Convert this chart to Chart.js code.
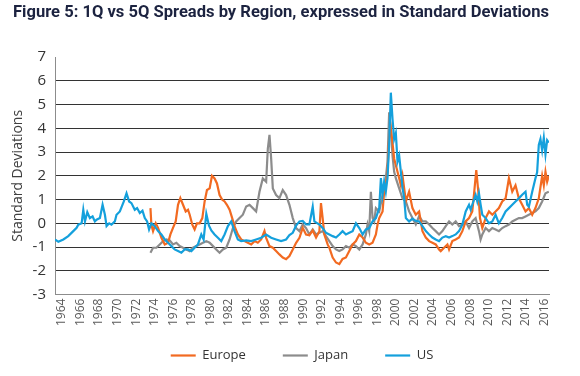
<!DOCTYPE html>
<html>
<head>
<meta charset="utf-8">
<script src="https://cdn.jsdelivr.net/npm/chart.js@4.4.1/dist/chart.umd.min.js"></script>
<style>
  html, body { margin: 0; padding: 0; background: #ffffff; }
  #wrap { width: 580px; height: 376px; position: relative; }
</style>
</head>
<body>
<div id="wrap"><canvas id="c" width="580" height="376"></canvas></div>
<script>
// ---- Data ----
const tickYears = [1964,1966,1968,1970,1972,1974,1976,1978,1980,1982,1984,1986,1988,1990,1992,1994,1996,1998,2000,2002,2004,2006,2008,2010,2012,2014,2016];

const usDates = [1963.25,1963.61,1964.15,1964.68,1965.22,1965.58,1965.76,1966.12,1966.30,1966.48,1966.73,1967.01,1967.30,1967.55,1967.73,1968.09,1968.38,1968.63,1968.81,1969.09,1969.34,1969.70,1969.88,1970.24,1970.67,1970.96,1971.24,1971.49,1971.85,1972.10,1972.39,1972.68,1972.93,1973.18,1973.39,1973.64,1974.00,1974.36,1974.72,1975.08,1975.44,1975.80,1976.15,1976.51,1976.87,1977.23,1977.59,1977.95,1978.30,1978.66,1979.02,1979.27,1979.56,1979.85,1980.10,1980.45,1980.81,1981.17,1981.53,1981.89,1982.25,1982.60,1982.96,1983.32,1983.86,1984.40,1984.93,1985.47,1986.01,1986.55,1987.08,1987.62,1988.16,1988.52,1988.88,1989.24,1989.60,1989.95,1990.31,1990.67,1991.03,1991.21,1991.75,1992.10,1992.46,1992.82,1993.18,1993.54,1993.90,1994.25,1994.61,1994.97,1995.33,1995.69,1996.05,1996.41,1996.76,1997.12,1997.48,1997.84,1998.20,1998.38,1998.56,1998.73,1998.91,1999.09,1999.27,1999.45,1999.63,1999.81,1999.99,2000.17,2000.35,2000.71,2000.89,2001.07,2001.42,2001.78,2002.14,2002.50,2002.86,2003.22,2003.58,2003.93,2004.29,2004.65,2005.01,2005.37,2005.73,2006.08,2006.44,2006.80,2007.16,2007.52,2007.88,2008.06,2008.23,2008.59,2008.77,2008.95,2009.13,2009.31,2009.67,2010.03,2010.39,2010.74,2011.10,2011.46,2011.82,2012.18,2012.54,2012.89,2013.25,2013.61,2013.97,2014.15,2014.33,2014.69,2015.04,2015.22,2015.40,2015.58,2015.76,2015.94,2016.12,2016.30,2016.48];
const usValues = [-0.68,-0.78,-0.68,-0.54,-0.33,-0.19,-0.06,0.0,0.57,0.08,0.47,0.22,0.29,0.08,0.15,0.22,0.78,0.36,-0.12,0.0,-0.06,0.08,0.36,0.5,0.92,1.26,0.92,0.85,0.57,0.64,0.43,0.53,0.22,0.08,-0.26,0.0,-0.12,-0.33,-0.47,-0.68,-0.82,-0.96,-1.1,-1.17,-1.24,-1.1,-1.1,-1.17,-1.03,-0.89,-0.47,-0.68,0.4,-0.1,-0.3,-0.47,-0.61,-0.75,-0.47,-0.12,0.08,-0.33,-0.68,-0.75,-0.72,-0.75,-0.68,-0.61,-0.47,-0.61,-0.68,-0.75,-0.68,-0.5,-0.4,-0.1,0.08,0.1,-0.05,-0.05,0.7,0.08,-0.05,-0.2,-0.4,-0.47,-0.54,-0.6,-0.47,-0.33,-0.47,-0.4,-0.33,0.0,-0.2,-0.47,-0.26,-0.2,0.08,0.22,0.64,1.9,1.2,1.75,1.33,1.9,3.3,5.5,4.4,3.55,3.8,2.6,2.85,1.5,1.05,0.22,0.08,0.2,0.1,0.08,-0.12,-0.33,-0.47,-0.6,-0.68,-0.75,-0.6,-0.54,-0.6,-0.54,-0.47,-0.33,-0.05,0.5,0.78,0.57,0.78,1.2,0.92,1.26,0.78,0.36,0.22,0.0,0.08,0.36,0.0,0.22,0.5,0.64,0.78,0.92,1.05,1.2,1.33,0.78,0.7,1.33,1.9,2.15,3.3,3.55,3.07,3.6,2.9,3.5,3.4];

const europeDates = [1973.54,1973.64,1973.82,1974.11,1974.36,1974.72,1975.08,1975.44,1975.69,1975.97,1976.26,1976.51,1976.76,1977.05,1977.34,1977.59,1977.77,1978.05,1978.30,1978.55,1978.84,1979.13,1979.38,1979.63,1979.92,1980.17,1980.45,1980.71,1980.99,1981.28,1981.53,1981.78,1982.07,1982.35,1982.60,1982.96,1983.32,1983.68,1984.04,1984.40,1984.76,1985.11,1985.47,1985.83,1986.01,1986.37,1986.73,1987.08,1987.44,1987.80,1988.16,1988.52,1988.88,1989.24,1989.60,1989.95,1990.31,1990.67,1991.03,1991.39,1991.75,1991.92,1992.10,1992.28,1992.64,1992.82,1993.18,1993.54,1993.90,1994.25,1994.61,1994.97,1995.33,1995.69,1996.05,1996.41,1996.76,1997.12,1997.48,1997.84,1998.02,1998.20,1998.56,1998.73,1998.91,1999.09,1999.27,1999.45,1999.63,1999.81,1999.99,2000.35,2000.53,2000.71,2000.89,2001.07,2001.42,2001.78,2002.14,2002.50,2002.86,2003.22,2003.58,2003.93,2004.29,2004.65,2004.83,2005.19,2005.55,2005.73,2006.08,2006.44,2006.80,2007.16,2007.52,2007.88,2008.23,2008.41,2008.66,2008.88,2009.06,2009.31,2009.67,2010.03,2010.39,2010.74,2011.10,2011.46,2011.82,2012.18,2012.54,2012.89,2013.25,2013.61,2013.97,2014.33,2014.69,2015.04,2015.40,2015.76,2015.94,2016.12,2016.30,2016.48];
const europeValues = [0.64,-0.06,-0.33,0.0,-0.19,-0.61,-0.89,-0.82,-0.47,-0.19,0.08,0.78,1.06,0.78,0.5,0.57,0.36,-0.06,-0.26,0.0,0.0,0.22,0.92,1.4,1.47,2.0,1.89,1.68,1.19,0.99,0.92,0.78,0.57,0.22,-0.12,-0.47,-0.68,-0.75,-0.82,-0.89,-0.75,-0.82,-0.68,-0.33,-0.61,-0.96,-1.03,-1.17,-1.31,-1.44,-1.51,-1.38,-1.1,-0.82,-0.61,-0.19,-0.47,-0.5,-0.3,-0.6,-0.33,0.85,0.22,-0.47,-0.89,-1.03,-1.44,-1.65,-1.72,-1.5,-1.44,-1.17,-0.89,-0.75,-0.47,-0.6,-0.82,-0.89,-0.82,-0.47,-0.05,0.22,0.5,1.33,1.6,2.17,3.6,4.0,3.4,2.72,2.44,1.9,1.6,2.0,1.47,0.92,1.33,0.64,0.36,0.5,-0.33,-0.6,-0.75,-0.82,-0.89,-1.1,-1.17,-1.03,-0.89,-1.1,-0.75,-0.68,-0.6,-0.33,0.08,0.22,0.5,1.2,2.24,1.33,0.22,-0.2,0.22,0.5,0.36,0.5,0.64,0.92,1.05,1.9,1.33,1.6,1.05,0.78,0.5,0.64,0.36,0.64,1.05,2.0,1.6,2.17,1.75,2.0];

const japanDates = [1973.54,1973.82,1974.18,1974.54,1974.90,1975.26,1975.62,1975.97,1976.33,1976.69,1977.05,1977.41,1977.77,1978.12,1978.48,1978.84,1979.20,1979.56,1979.92,1980.28,1980.63,1980.99,1981.35,1981.71,1982.07,1982.43,1982.78,1983.14,1983.50,1983.86,1984.22,1984.58,1984.93,1985.29,1985.65,1986.01,1986.19,1986.37,1986.55,1986.73,1987.08,1987.44,1987.80,1988.16,1988.52,1988.88,1989.24,1989.60,1989.95,1990.31,1990.67,1991.03,1991.39,1991.75,1992.10,1992.46,1992.82,1993.18,1993.54,1993.90,1994.25,1994.61,1994.97,1995.33,1995.69,1996.05,1996.41,1996.76,1996.94,1997.12,1997.30,1997.48,1997.66,1997.84,1998.20,1998.56,1998.91,1999.09,1999.27,1999.45,1999.63,1999.81,1999.99,2000.35,2000.71,2001.07,2001.42,2001.78,2002.14,2002.50,2002.86,2003.22,2003.58,2003.93,2004.29,2004.65,2005.01,2005.37,2005.73,2006.08,2006.44,2006.80,2007.16,2007.52,2007.88,2008.23,2008.59,2008.95,2009.13,2009.31,2009.67,2010.03,2010.39,2010.74,2011.10,2011.46,2011.82,2012.18,2012.54,2012.89,2013.25,2013.61,2013.97,2014.33,2014.69,2015.04,2015.40,2015.76,2016.12,2016.48];
const japanValues = [-1.24,-1.03,-1.03,-0.89,-0.75,-0.68,-0.72,-0.89,-0.82,-0.96,-1.03,-1.1,-1.17,-1.03,-0.96,-0.89,-0.82,-0.75,-0.82,-0.96,-1.1,-1.24,-1.1,-1.03,-0.68,-0.19,0.08,0.22,0.36,0.71,0.78,0.64,0.5,1.33,1.89,1.75,3.14,3.72,2.72,1.47,1.19,1.06,1.4,1.19,0.78,0.22,-0.2,-0.33,-0.05,-0.2,-0.47,-0.26,-0.47,-0.4,-0.33,-0.54,-0.75,-0.96,-1.1,-1.17,-1.1,-0.96,-1.03,-0.89,-0.96,-1.1,-0.89,-0.47,-0.05,-0.33,1.33,0.22,0.08,0.64,0.5,1.2,1.9,2.58,4.67,4.0,2.86,2.17,1.9,1.47,1.05,0.92,0.5,0.22,-0.05,0.3,0.08,0.08,-0.05,-0.2,-0.33,-0.47,-0.33,-0.12,0.08,-0.05,0.08,-0.12,-0.05,0.08,-0.2,0.08,0.22,-0.33,-0.68,-0.47,-0.2,-0.33,-0.2,-0.26,-0.33,-0.2,-0.12,-0.05,0.08,0.15,0.22,0.22,0.29,0.36,0.43,0.5,0.64,0.92,1.26,1.33];

function pts(dates, values) { return dates.map((d, i) => ({ x: d, y: values[i] })); }

const FONT = "'Open Sans', 'Liberation Sans', sans-serif";

new Chart(document.getElementById('c'), {
  type: 'line',
  data: {
    datasets: [
      { label: 'Europe', data: pts(europeDates, europeValues), borderColor: '#F26A21', backgroundColor: '#F26A21', borderWidth: 2.2, pointRadius: 0, tension: 0, order: 1 },
      { label: 'Japan', data: pts(japanDates, japanValues), borderColor: '#8C8C8C', backgroundColor: '#8C8C8C', borderWidth: 2.2, pointRadius: 0, tension: 0, order: 2 },
      { label: 'US', data: pts(usDates, usValues), borderColor: '#14A0DC', backgroundColor: '#14A0DC', borderWidth: 2.2, pointRadius: 0, tension: 0, order: 0 }
    ]
  },
  options: {
    responsive: false,
    animation: false,
    devicePixelRatio: 1,
    layout: { padding: { left: 13, right: 31, top: 0, bottom: 4 } },
    scales: {
      x: {
        type: 'linear',
        min: 1963.25,
        max: 2016.5,
        afterBuildTicks: (axis) => { axis.ticks = tickYears.map(v => ({ value: v })); },
        ticks: {
          autoSkip: false, minRotation: 90, maxRotation: 90, padding: 4,
          color: '#595959', font: { family: FONT, size: 12 },
          callback: (v) => String(v)
        },
        grid: { color: 'rgba(0,0,0,0)', drawTicks: false },
        border: { color: '#8c8c8c', width: 1 }
      },
      y: {
        min: -3, max: 7,
        afterFit: (axis) => { axis.width = 42; },
        ticks: { stepSize: 1, padding: 9, color: '#333333', font: { family: FONT, size: 15 } },
        grid: {
          drawTicks: false,
          color: (ctx) => (ctx.tick && (ctx.tick.value === 7 || ctx.tick.value === -3)) ? 'rgba(0,0,0,0)' : '#333333',
          lineWidth: 1
        },
        border: { color: '#8c8c8c', width: 1 },
        title: { display: true, text: 'Standard Deviations', color: '#404040', font: { family: FONT, size: 14 }, padding: { top: -3, bottom: 0 } }
      }
    },
    plugins: {
      title: {
        display: true,
        text: 'Figure 5: 1Q vs 5Q Spreads by Region, expressed in Standard Deviations',
        align: 'start',
        color: '#1c2340',
        font: { family: "Roboto, 'Liberation Sans', sans-serif", size: 16.7, weight: 'bold' },
        padding: { top: 3, bottom: 34 }
      },
      legend: {
        position: 'bottom',
        fullSize: false,
        title: { display: true, text: '', font: { size: 10 }, padding: { top: -30, bottom: 0 } },
        labels: {
          usePointStyle: true, pointStyle: 'line', pointStyleWidth: 25, boxHeight: 13,
          padding: 37, color: '#333333', font: { family: FONT, size: 13 },
          sort: (a, b) => a.datasetIndex - b.datasetIndex
        }
      },
      tooltip: { enabled: false }
    }
  }
});
</script>
</body>
</html>
